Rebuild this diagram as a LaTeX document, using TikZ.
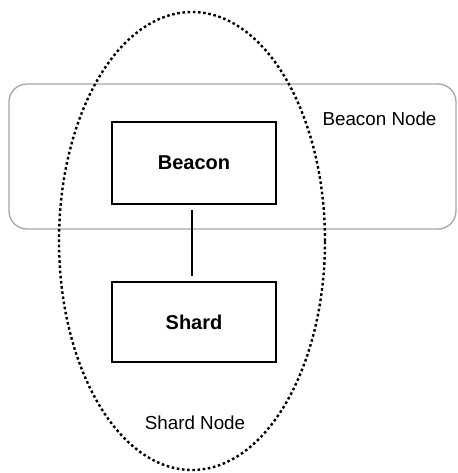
\documentclass[tikz,border=0pt]{standalone}
\usepackage{fontspec}
\setmainfont{Liberation Sans}
\usetikzlibrary{shapes.geometric}
\begin{document}
\begin{tikzpicture}[x=1pt,y=-1pt,
  region/.style={draw=black!35, line width=1.3pt, rounded corners=18pt, minimum width=447pt, minimum height=145pt, inner sep=0pt},
  group/.style={ellipse, draw=black, line width=2.4pt, dash pattern=on 2.6pt off 2.6pt, minimum width=266pt, minimum height=458pt, inner sep=0pt},
  box/.style={draw=black, line width=1.4pt, fill=white, minimum width=164pt, inner sep=0pt, font=\fontsize{20}{24}\selectfont\bfseries},
  lbl/.style={font=\fontsize{18.8}{22}\selectfont, inner sep=0pt},
  link/.style={draw=black, line width=1.4pt, shorten <=5pt, shorten >=5pt}]
\useasboundingbox (0,0) rectangle (457,473);
\node[region] (bn) at (232.5,156.5) {};
\node[group] (sn) at (192,241) {};
\node[box, minimum height=82pt] (beacon) at (194,163) {Beacon};
\node[box, minimum height=80pt] (shard) at (194,322) {Shard};
\draw[link] (beacon.south -| 192,0) -- (shard.north -| 192,0);
\node[lbl] (bnl) at (379.5,119) {Beacon Node};
\node[lbl] (snl) at (195,423) {Shard Node};
\end{tikzpicture}
\end{document}
